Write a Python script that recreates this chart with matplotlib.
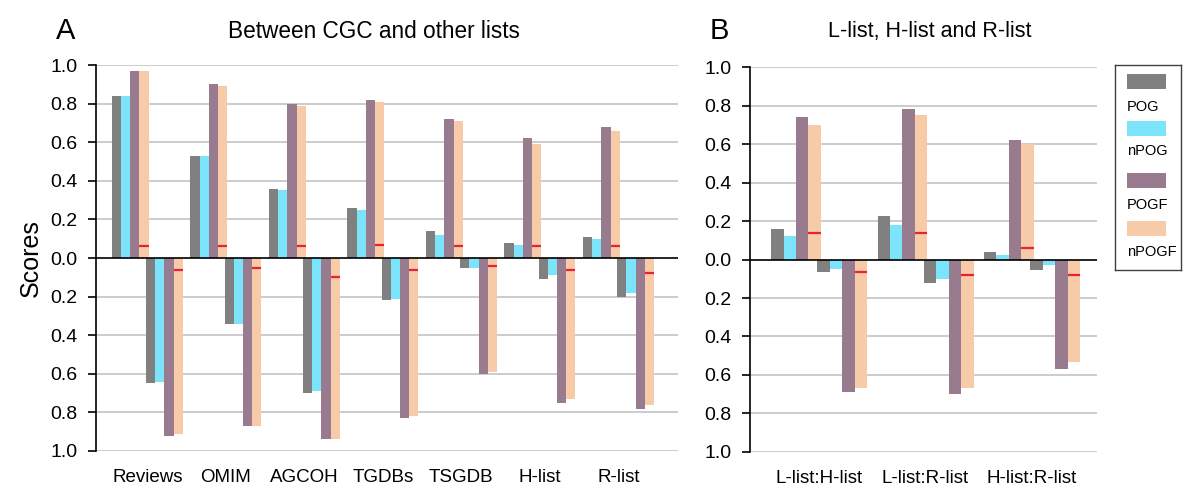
import numpy as np
import matplotlib.pyplot as plt
from matplotlib.patches import Rectangle

plt.rcParams['font.family'] = ['Liberation Sans', 'DejaVu Sans']

## Panel A: between CGC and other lists
cats_a = ['Reviews', 'OMIM', 'AGCOH', 'TGDBs', 'TSGDB', 'H-list', 'R-list']
pog_up_a = [0.84, 0.53, 0.36, 0.26, 0.14, 0.08, 0.11]
npog_up_a = [0.84, 0.53, 0.35, 0.25, 0.12, 0.07, 0.10]
pogf_up_a = [0.97, 0.90, 0.80, 0.82, 0.72, 0.62, 0.68]
npogf_up_a = [0.97, 0.89, 0.79, 0.81, 0.71, 0.59, 0.66]
rand_up_a = [0.06, 0.06, 0.06, 0.07, 0.06, 0.06, 0.06]
pog_dn_a = [0.65, 0.34, 0.70, 0.22, 0.05, 0.11, 0.20]
npog_dn_a = [0.64, 0.34, 0.69, 0.21, 0.05, 0.09, 0.18]
pogf_dn_a = [0.92, 0.87, 0.94, 0.83, 0.60, 0.75, 0.78]
npogf_dn_a = [0.91, 0.87, 0.94, 0.82, 0.59, 0.73, 0.76]
rand_dn_a = [0.06, 0.05, 0.10, 0.06, 0.04, 0.06, 0.08]

## Panel B: L-list, H-list and R-list
cats_b = ['L-list:H-list', 'L-list:R-list', 'H-list:R-list']
pog_up_b = [0.16, 0.225, 0.038]
npog_up_b = [0.12, 0.18, 0.022]
pogf_up_b = [0.74, 0.78, 0.62]
npogf_up_b = [0.70, 0.75, 0.60]
rand_up_b = [0.14, 0.14, 0.06]
pog_dn_b = [0.066, 0.12, 0.055]
npog_dn_b = [0.05, 0.10, 0.03]
pogf_dn_b = [0.69, 0.70, 0.57]
npogf_dn_b = [0.67, 0.67, 0.535]
rand_dn_b = [0.064, 0.08, 0.08]

series_names = ['POG', 'nPOG', 'POGF', 'nPOGF']
colors = ['#808080', '#7BE3FA', '#987B8F', '#F7CBA7']
red = '#E8213A'
grid_col = '#C4C4C4'

W = 0.117     # bar width in category units
START = -0.45  # left edge of the "up" group
SHIFT = 0.435  # offset of the "down" group


def draw_panel(ax, cats, up, dn, rand_up, rand_dn, xlim):
    x = np.arange(len(cats))
    for k in range(4):
        ax.bar(x + START + k * W, up[k], W, align='edge', color=colors[k], lw=0, zorder=3)
        ax.bar(x + START + SHIFT + k * W, -np.array(dn[k]), W, align='edge', color=colors[k], lw=0, zorder=3)
    # red marks on the nPOGF bars
    left_up = x + START + 3 * W
    left_dn = x + START + SHIFT + 3 * W
    ax.hlines(rand_up, left_up, left_up + W, colors=red, lw=1.6, zorder=4)
    ax.hlines(-np.array(rand_dn), left_dn, left_dn + W, colors=red, lw=1.6, zorder=4)

    ax.set_xlim(*xlim)
    ax.set_ylim(-1.0, 1.0)
    yt = np.round(np.arange(-1.0, 1.01, 0.2), 1)
    ax.set_yticks(yt)
    ax.set_yticklabels(['%.1f' % abs(v) for v in yt], fontsize=14)
    for v in yt:
        if abs(v) > 1e-9:
            ax.axhline(v, color=grid_col, lw=1.2, zorder=1)
    ax.axhline(0, color='black', lw=1.2, zorder=5)
    ax.set_xticks(x)
    ax.set_xticklabels(cats, fontsize=13.5)
    ax.tick_params(axis='x', length=0, pad=13)
    ax.tick_params(axis='y', length=5.5, width=1.2, pad=8, direction='out')
    for s in ['top', 'right', 'bottom']:
        ax.spines[s].set_visible(False)
    ax.spines['left'].set_linewidth(1.2)


fig = plt.figure(figsize=(12, 4.98), dpi=100)

axA = fig.add_axes([0.08, 0.0944, 0.485, 0.775])
draw_panel(axA, cats_a,
           [pog_up_a, npog_up_a, pogf_up_a, npogf_up_a],
           [pog_dn_a, npog_dn_a, pogf_dn_a, npogf_dn_a],
           rand_up_a, rand_dn_a, (-0.653, 6.76))
axA.set_ylabel('Scores', fontsize=18, labelpad=5)

axB = fig.add_axes([0.625, 0.0924, 0.289, 0.773])
draw_panel(axB, cats_b,
           [pog_up_b, npog_up_b, pogf_up_b, npogf_up_b],
           [pog_dn_b, npog_dn_b, pogf_dn_b, npogf_dn_b],
           rand_up_b, rand_dn_b, (-0.648, 2.61))

# panel letters and titles
fig.text(66 / 1200, 1 - 31 / 498, 'A', fontsize=21, ha='center', va='center')
fig.text(374 / 1200, 1 - 31 / 498, 'Between CGC and other lists', fontsize=16.3, ha='center', va='center')
fig.text(719 / 1200, 1 - 31 / 498, 'B', fontsize=21, ha='center', va='center')
fig.text(930 / 1200, 1 - 31 / 498, 'L-list, H-list and R-list', fontsize=15.5, ha='center', va='center')

# legend drawn in its own small box, label under each swatch
leg = fig.add_axes([1115 / 1200, 1 - 270 / 498, 66 / 1200, 205 / 498])
leg.set_xlim(0, 66)
leg.set_ylim(205, 0)
leg.set_xticks([])
leg.set_yticks([])
for s in leg.spines.values():
    s.set_color('#404040')
    s.set_linewidth(1.0)
sw_top = [9, 56, 108, 156]
lab_y = [42, 86, 140, 187]
for k in range(4):
    leg.add_patch(Rectangle((12, sw_top[k]), 39, 15, color=colors[k], lw=0))
    leg.text(12, lab_y[k], series_names[k], fontsize=10.5, ha='left', va='center')

fig.savefig('out.png', dpi=100)
